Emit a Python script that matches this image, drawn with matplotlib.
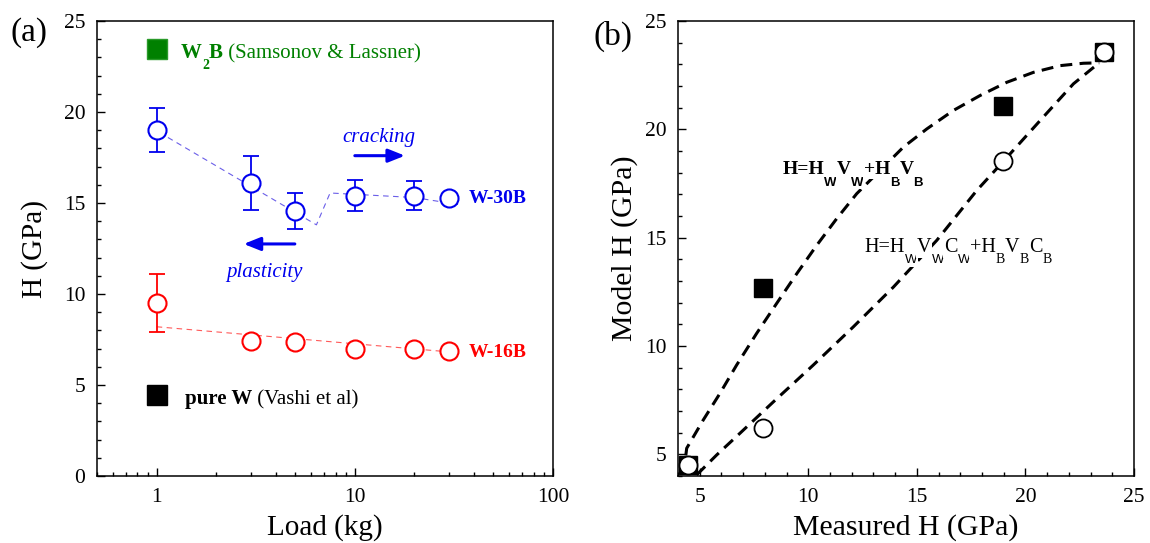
import matplotlib
matplotlib.use("Agg")
import matplotlib.pyplot as plt
from matplotlib.ticker import MultipleLocator, FixedLocator, NullFormatter

plt.rcParams['font.family'] = ['Liberation Serif', 'DejaVu Serif']

# ---------------- data: panel (a) ----------------
load = [1, 3, 5, 10, 20, 30]
h_30b = [19.0, 16.1, 14.55, 15.4, 15.4, 15.3]
h_30b_err = [1.2, 1.5, 1.0, 0.85, 0.8, 0.0]
h_16b = [9.5, 7.4, 7.35, 7.0, 7.0, 6.85]
h_16b_err = [1.6, 0.0, 0.0, 0.0, 0.0, 0.0]
fit_30b_x = [1.14, 6.4, 7.5, 20, 34]
fit_30b_y = [18.6, 13.8, 15.55, 15.3, 14.9]
fit_16b_x = [1.0, 33]
fit_16b_y = [8.2, 6.78]
w2b_load, w2b_h = [1.0], [23.45]
pureW_load, pureW_h = [1.0], [4.45]

# ---------------- data: panel (b) ----------------
meas_sq = [4.47, 7.90, 18.99, 23.60]
model_sq = [4.51, 12.70, 21.10, 23.59]
meas_ci = [4.47, 7.90, 18.99, 23.60]
model_ci = [4.51, 6.20, 18.53, 23.59]
rule_x = [4.36, 4.40, 5.16, 5.93, 6.70, 7.62, 8.54, 9.47, 10.39, 11.31, 12.23,
          13.30, 14.38, 15.46, 16.68, 17.91, 19.14, 20.37, 21.60, 22.67, 23.40]
rule_y = [4.95, 5.28, 6.58, 7.81, 9.12, 10.58, 11.96, 13.34, 14.65, 15.88, 17.03,
          18.10, 19.18, 20.02, 20.87, 21.56, 22.17, 22.63, 22.94, 23.05, 23.07]
corr_x = [4.86, 5.78, 6.85, 8.39, 10.23, 12.07, 13.92, 15.92, 17.76, 18.99,
          20.68, 22.21, 23.36]
corr_y = [4.05, 4.97, 5.97, 7.42, 9.12, 10.88, 12.72, 14.88, 17.18, 18.53,
          20.41, 22.10, 23.04]

fig = plt.figure(figsize=(11.5, 5.43), dpi=100)
W, H = 1150, 543
def pos(x0, y0, x1, y1):
    return [x0 / W, 1 - y1 / H, (x1 - x0) / W, (y1 - y0) / H]

ax1 = fig.add_axes(pos(97, 21, 553, 476))
ax2 = fig.add_axes(pos(678, 21, 1134, 476))

BLUE = '#0000ee'
RED = '#ff0000'
GREEN = '#008000'
SERIF = ['Liberation Serif', 'DejaVu Serif']
SANS = ['Liberation Sans', 'DejaVu Sans']

for ax in (ax1, ax2):
    for s in ax.spines.values():
        s.set_linewidth(1.1)
    ax.tick_params(which='both', direction='in', top=False, right=False,
                   labelsize=15.5, width=1.0)
    ax.tick_params(which='major', length=6, pad=8.5)
    ax.tick_params(which='minor', length=3)


def chain_text(ax, x, y, parts, color='black', bg=False):
    """parts: (string, fontsize, weight, family, dy_points)"""
    prev = None
    for s, fs, fw, fam, dy in parts:
        kw = dict(fontsize=fs, fontweight=fw, family=fam, va='baseline',
                  ha='left', color=color, zorder=5)
        if bg:
            kw['bbox'] = dict(boxstyle='square,pad=0.05', fc='white', ec='none')
        if prev is None:
            t = ax.text(x, y, s, **kw)
        else:
            t = ax.annotate(s, xy=(1, y), xycoords=(prev, 'data'),
                            xytext=(0, dy), textcoords='offset points', **kw)
        prev = t


# ---- panel (a)
ax1.set_xscale('log')
ax1.set_xlim(0.5, 100)
ax1.set_ylim(0, 25)
ax1.yaxis.set_major_locator(MultipleLocator(5))
ax1.yaxis.set_minor_locator(MultipleLocator(1))
ax1.xaxis.set_major_locator(FixedLocator([1, 10, 100]))
ax1.set_xticklabels(['1', '10', '100'])
ax1.xaxis.set_minor_formatter(NullFormatter())

ax1.plot(fit_30b_x, fit_30b_y, ls=(0, (5, 4)), lw=0.8, color='#6a5ee8')
ax1.plot(fit_16b_x, fit_16b_y, ls=(0, (5, 4)), lw=0.8, color='#ff5a5a')

def eb(ax, x, y, e, c):
    xs = [a for a, b in zip(x, e) if b > 0]
    ys = [a for a, b in zip(y, e) if b > 0]
    es = [b for b in e if b > 0]
    ax.errorbar(xs, ys, yerr=es, fmt='none', ecolor=c, elinewidth=1.3,
                capsize=5.5, capthick=1.3, zorder=3)

eb(ax1, load, h_30b, h_30b_err, BLUE)
eb(ax1, load, h_16b, h_16b_err, RED)
ax1.plot(load, h_30b, 'o', ms=13, mfc='white', mec=BLUE, mew=1.5, ls='none', zorder=4)
ax1.plot(load, h_16b, 'o', ms=13, mfc='white', mec=RED, mew=1.5, ls='none', zorder=4)
ax1.plot(w2b_load, w2b_h, 's', ms=15, color=GREEN, mec='#2a9a2a', ls='none')
ax1.plot(pureW_load, pureW_h, 's', ms=15, color='black', ls='none')

chain_text(ax1, 1.33, 22.95, [
    ('W', 15, 'bold', SERIF, 0),
    ('2', 10, 'bold', SERIF, -7.5),
    ('B', 15, 'bold', SERIF, 0),
    (' (Samsonov & Lassner)', 15, 'normal', SERIF, 0),
], color=GREEN)
chain_text(ax1, 1.385, 3.95, [
    ('pure W', 15, 'bold', SERIF, 0),
    (' (Vashi et al)', 15, 'normal', SERIF, 0),
])
ax1.text(37.4, 15.26, 'W-30B', color=BLUE, fontsize=14, fontweight='bold',
         va='center', ha='left')
ax1.text(37.4, 6.77, 'W-16B', color=RED, fontsize=14, fontweight='bold',
         va='center', ha='left')
ax1.text(13.3, 18.6, 'cracking', color=BLUE, fontsize=15, style='italic',
         va='center', ha='center')
ax1.text(3.51, 11.2, 'plasticity', color=BLUE, fontsize=15, style='italic',
         va='center', ha='center')
arrow_kw = dict(arrowstyle='-|>,head_length=1.0,head_width=0.4', color=BLUE,
                lw=2.2, shrinkA=0, shrinkB=0)
ax1.annotate('', xy=(17.9, 17.6), xytext=(10.0, 17.6), arrowprops=arrow_kw)
ax1.annotate('', xy=(2.75, 12.75), xytext=(4.98, 12.75), arrowprops=arrow_kw)

ax1.set_xlabel('Load (kg)', fontsize=21, labelpad=5)
ax1.set_ylabel('H (GPa)', fontsize=21, labelpad=11)

# ---- panel (b)
ax2.set_xlim(4, 25)
ax2.set_ylim(4, 25)
ax2.xaxis.set_major_locator(MultipleLocator(5))
ax2.xaxis.set_minor_locator(MultipleLocator(1))
ax2.yaxis.set_major_locator(MultipleLocator(5))
ax2.yaxis.set_minor_locator(MultipleLocator(1))

dash = (0, (3.9, 2.4))
ax2.plot(rule_x, rule_y, ls=dash, lw=2.2, color='black', zorder=2)
ax2.plot(corr_x, corr_y, ls=dash, lw=2.2, color='black', zorder=2)
ax2.plot(meas_sq, model_sq, 's', ms=13, color='black', ls='none', zorder=3,
         clip_on=False)
ax2.plot(meas_ci, model_ci, 'o', ms=13, mfc='white', mec='black', mew=1.3,
         ls='none', zorder=4, clip_on=False)

sub_dy = -8.0
chain_text(ax2, 8.82, 17.92, [
    ('H=H', 14, 'bold', SERIF, 0),
    ('W', 9.5, 'bold', SANS, sub_dy),
    ('V', 14, 'bold', SERIF, 0),
    ('W', 9.5, 'bold', SANS, sub_dy),
    ('+H', 14, 'bold', SERIF, 0),
    ('B', 9.5, 'bold', SANS, sub_dy),
    ('V', 14, 'bold', SERIF, 0),
    ('B', 9.5, 'bold', SANS, sub_dy),
], bg=True)
chain_text(ax2, 12.57, 14.34, [
    ('H=H', 14.5, 'normal', SERIF, 0),
    ('W', 9.5, 'normal', SANS, sub_dy),
    ('V', 14.5, 'normal', SERIF, 0),
    ('W', 9.5, 'normal', SANS, sub_dy),
    ('C', 14.5, 'normal', SERIF, 0),
    ('W', 9.5, 'normal', SANS, sub_dy),
    ('+H', 14.5, 'normal', SERIF, 0),
    ('B', 10, 'normal', SERIF, sub_dy),
    ('V', 14.5, 'normal', SERIF, 0),
    ('B', 10, 'normal', SERIF, sub_dy),
    ('C', 14.5, 'normal', SERIF, 0),
    ('B', 10, 'normal', SERIF, sub_dy),
], bg=True)

ax2.set_xlabel('Measured H (GPa)', fontsize=21.5, labelpad=5)
ax2.set_ylabel('Model H (GPa)', fontsize=21.5, labelpad=5)

fig.text(29 / W, 1 - 33 / H, '(a)', fontsize=24, ha='center', va='center')
fig.text(613 / W, 1 - 36 / H, '(b)', fontsize=24, ha='center', va='center')

fig.savefig('out.png', dpi=100)
